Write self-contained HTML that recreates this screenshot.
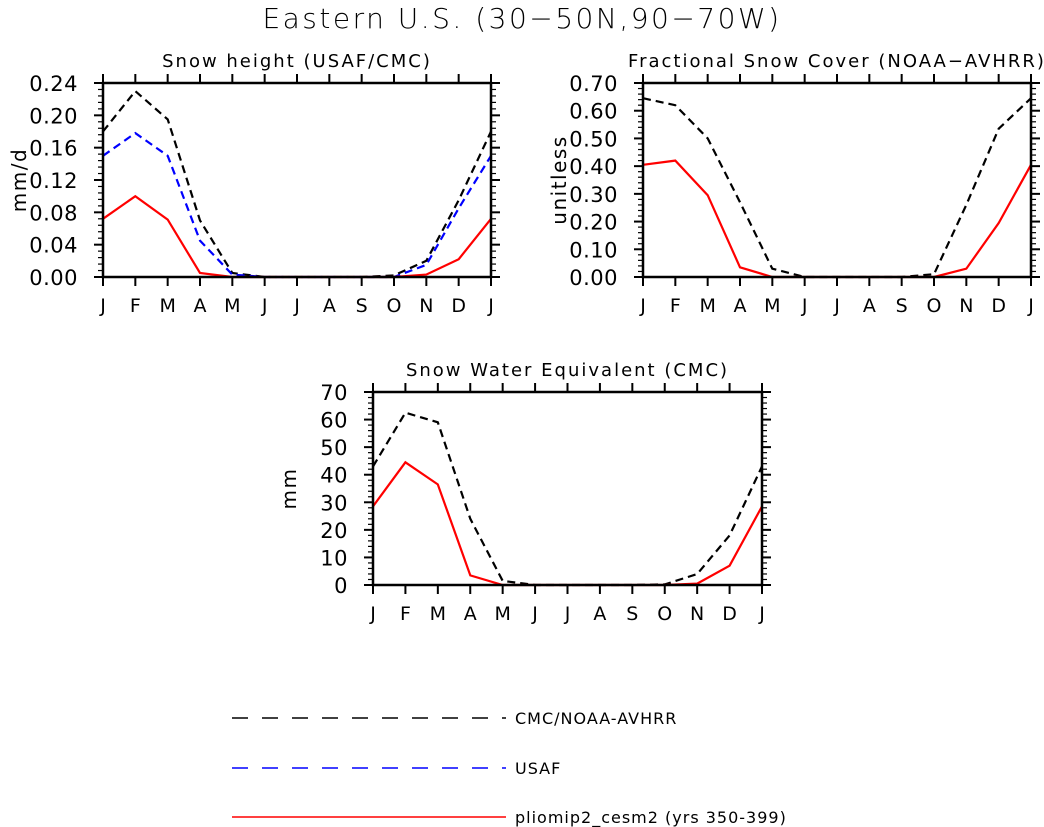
<!DOCTYPE html>
<html><head><meta charset="utf-8"><style>
body{margin:0;background:#fff;}
svg{display:block;font-family:"DejaVu Sans","Liberation Sans",sans-serif;}
</style></head><body>
<svg id="fig" width="1044" height="827" viewBox="0 0 1044 827" xmlns="http://www.w3.org/2000/svg">
<text x="522" y="28" font-size="28" letter-spacing="2.5" text-anchor="middle" font-weight="300">Eastern U.S. (30−50N,90−70W)</text>
</svg>
<script>
const months=["J","F","M","A","M","J","J","A","S","O","N","D","J"];
const snowTicks=["0.00","0.04","0.08","0.12","0.16","0.20","0.24"];
const snowCmc=[0.18,0.23,0.195,0.07,0.005,0,0,0,0,0.002,0.02,0.095,0.18];
const snowUsaf=[0.15,0.178,0.15,0.045,0.003,0,0,0,0,0,0.015,0.085,0.15];
const snowModel=[0.072,0.1,0.071,0.005,0,0,0,0,0,0,0.003,0.022,0.072];
const fscTicks=["0.00","0.10","0.20","0.30","0.40","0.50","0.60","0.70"];
const fscObs=[0.645,0.62,0.5,0.27,0.03,0,0,0,0,0.01,0.26,0.535,0.645];
const fscModel=[0.405,0.42,0.295,0.035,0,0,0,0,0,0,0.03,0.195,0.405];
const sweTicks=["0","10","20","30","40","50","60","70"];
const sweObs=[43,62.5,59,24,1.5,0,0,0,0,0.2,4,18,43];
const sweModel=[28.5,44.5,36.5,3.5,0,0,0,0,0,0,0.5,7,28.5];

const NS="http://www.w3.org/2000/svg";
const svg=document.getElementById('fig');
function mk(tag,attrs,parent){const e=document.createElementNS(NS,tag);for(const k in attrs)e.setAttribute(k,attrs[k]);(parent||svg).appendChild(e);return e;}

function panel(name,title,ylabel,box,ticks,ymax,series){
  const g=mk('g',{});
  
  
  const [x0,y0,x1,y1]=box;
  const sx=i=>x0+(x1-x0)*i/(months.length-1);
  const sy=v=>y1-(y1-y0)*v/ymax;
  const t=mk('text',{x:(x0+x1)/2,y:y0-16,'font-size':18,'letter-spacing':2,'text-anchor':'middle'},g);
  t.textContent=title;
  
  
  const yl=mk('text',{x:0,y:0,'font-size':20,'letter-spacing':1.5,'text-anchor':'middle',transform:`translate(${x0-77},${(y0+y1)/2}) rotate(-90)`},g);
  yl.textContent=ylabel;
  
  
  series.forEach(s=>{
    const pts=s.vals.map((v,i)=>sx(i).toFixed(1)+','+sy(v).toFixed(1)).join(' ');
    const p=mk('polyline',{points:pts,fill:'none',stroke:s.color,'stroke-width':2.2,'stroke-dasharray':s.dash||'none'},g);
    
    
  });
  mk('rect',{x:x0,y:y0,width:x1-x0,height:y1-y0,fill:'none',stroke:'#000','stroke-width':2.5},g);
  months.forEach((m,i)=>{
    const x=sx(i);
    mk('line',{x1:x,x2:x,y1:y1,y2:y1+9,stroke:'#000','stroke-width':2},g);
    mk('line',{x1:x,x2:x,y1:y0,y2:y0-9,stroke:'#000','stroke-width':2},g);
    const l=mk('text',{x:x,y:y1+35,'font-size':19,'text-anchor':'middle'},g);
    l.textContent=m;
    
    
  });
  const n=ticks.length-1;
  for(let k=0;k<=n*5;k++){
    const y=y1-(y1-y0)*k/(n*5);
    const len=k%5===0?9:5;
    mk('line',{x1:x0-len,x2:x0,y1:y,y2:y,stroke:'#000','stroke-width':k%5===0?2:1.2},g);
    mk('line',{x1:x1,x2:x1+len,y1:y,y2:y,stroke:'#000','stroke-width':k%5===0?2:1.2},g);
  }
  ticks.forEach((tl,k)=>{
    const y=y1-(y1-y0)*k/n;
    const l=mk('text',{x:x0-25,y:y+8,'font-size':21,'letter-spacing':0.5,'text-anchor':'end'},g);
    l.textContent=tl;
    
    
  });
}
panel('snow-height-panel','Snow height (USAF/CMC)','mm/d',[103,83,491,277],snowTicks,0.24,[
 {name:'cmc-line',vals:snowCmc,color:'#000',dash:'8,5'},
 {name:'usaf-line',vals:snowUsaf,color:'#0000ff',dash:'8,5'},
 {name:'model-line',vals:snowModel,color:'#ff0000'}]);
panel('snow-cover-panel','Fractional Snow Cover (NOAA−AVHRR)','unitless',[643,83,1031,277],fscTicks,0.7,[
 {name:'noaa-line',vals:fscObs,color:'#000',dash:'8,5'},
 {name:'model-line',vals:fscModel,color:'#ff0000'}]);
panel('swe-panel','Snow Water Equivalent (CMC)','mm',[373,392,762,585],sweTicks,70,[
 {name:'cmc-line',vals:sweObs,color:'#000',dash:'8,5'},
 {name:'model-line',vals:sweModel,color:'#ff0000'}]);

const legend=[['CMC/NOAA-AVHRR','#000','16,14',718],['USAF','#0000ff','16,14',768],['pliomip2_cesm2 (yrs 350-399)','#ff0000','none',817]];
const lg=mk('g',{});


legend.forEach(([lab,c,d,y])=>{
  const e=mk('g',{},lg);
  
  
  mk('line',{x1:232,x2:506,y1:y,y2:y,stroke:c,'stroke-width':1.5,'stroke-dasharray':d},e);
  const t=mk('text',{x:515,y:y+6,'font-size':16,'letter-spacing':1},e);
  t.textContent=lab;
});
</script>
</body></html>
